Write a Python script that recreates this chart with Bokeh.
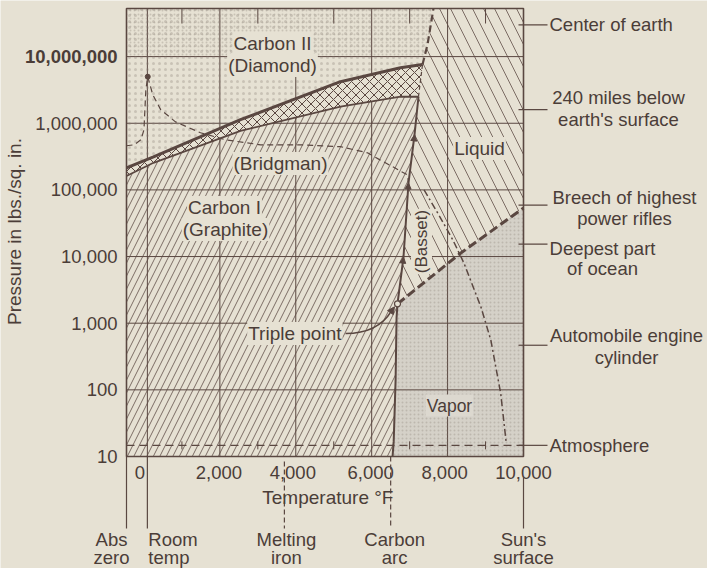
import math
from bokeh.plotting import figure
from bokeh.models import Range1d, Label, Arrow, NormalHead
from bokeh.core.properties import value
from bokeh.embed import file_html
from bokeh.resources import INLINE

# ---------------- data ----------------
temp_ticks = [0, 2000, 4000, 6000, 8000, 10000]
temp_tick_labels = ["0", "2,000", "4,000", "6,000", "8,000", "10,000"]
pressure_ticks = [10, 100, 1000, 10000, 100000, 1000000, 10000000]
pressure_tick_labels = ["10", "100", "1,000", "10,000", "100,000", "1,000,000", "10,000,000"]

T_MIN, T_MAX = -460, 10000
P_MIN, P_MAX = 10, 5.27e7

# graphite / diamond transition band (upper and lower edge)
band_upper_T = [-460, 251, 2544, 5178, 6759, 7339]
band_upper_P = [2.14e5, 3.13e5, 1.13e6, 4.2e6, 6.8e6, 7.6e6]
band_lower_T = [-460, 251, 2544, 5178, 6759, 7233]
band_lower_P = [1.62e5, 2.55e5, 7.7e5, 1.77e6, 2.5e6, 2.5e6]

# graphite melting line (Basset)
basset_T = [6680, 6838, 6970, 7128, 7233]
basset_P = [1950, 9800, 1.27e5, 6.7e5, 2.5e6]

# diamond melting line
dmelt_T = [7339, 7470, 7628]
dmelt_P = [7.6e6, 1.5e7, 5.27e7]

# graphite sublimation line
sublim_T = [6550, 6580, 6630, 6655, 6680]
sublim_P = [10, 17, 140, 1200, 1950]

# liquid / vapor line
boil_T = [6680, 8340, 10000]
boil_P = [1950, 11200, 53600]

triple_T = [6680]
triple_P = [1950]

# Bridgman curve
bridg_T = [-460, -260, -80, 0, 25, 50, 100, 230, 440, 830, 1490, 2150, 3070,
           4120, 5180, 5890, 6230, 6570, 6940, 6970]
bridg_P = [4.6e5, 4.75e5, 5.65e5, 8e5, 1.6e6, 3.2e6, 5e6, 2.7e6, 1.6e6, 1.05e6,
           7.2e5, 5.65e5, 4.75e5, 4.75e5, 4.45e5, 3.6e5, 2.8e5, 2.2e5, 1.68e5, 1.27e5]
bridg_peak_T = [100]
bridg_peak_P = [5e6]

# dash-dot curve through liquid and vapor
crit_T = [7380, 7770, 8140, 8430, 8880, 9140, 9400, 9540]
crit_P = [1e5, 4.2e4, 1.77e4, 8000, 1740, 555, 88, 17]

# reference pressures (right side)
ref_P_names = [["Center of earth"], ["240 miles below", "earth's surface"],
               ["Breech of highest", "power rifles"], ["Deepest part", "of ocean"],
               ["Automobile engine", "cylinder"], ["Atmosphere"]]
ref_P = [3.0e7, 1.6e6, 5.9e4, 1.54e4, 467, 14.7]

# reference temperatures (bottom)
ref_T_names = [["Abs", "zero"], ["Room", "temp"], ["Melting", "iron"],
               ["Carbon", "arc"], ["Sun's", "surface"]]
ref_T = [-460, 90, 3700, 6500, 10000]

grid_T = [90, 2000, 6000, 8000]
partial_grid_T = [4000]
partial_grid_top_P = [5e6]
top_ticks_T = [1000, 3000, 5000, 7000, 9000]
dense_stipple_floor_P = 1e7

# ---------------- layout helpers (page px <-> data) ----------------
W, H = 707, 568
FL, FR, FT, FB = 126, 523, 8, 456          # plot box edges in page pixels
LY0, LY1 = math.log10(P_MIN), math.log10(P_MAX)


def dx(px):
    return T_MIN + (px - FL) * (T_MAX - T_MIN) / (FR - FL)


def dy(py):
    return 10 ** (LY0 + (FB - py) * (LY1 - LY0) / (FB - FT))


def tx(T):
    return FL + (T - T_MIN) * (FR - FL) / (T_MAX - T_MIN)


def ty(P):
    return FB - (math.log10(P) - LY0) * (FB - FT) / (LY1 - LY0)


def interp_T(P, Ts, Ps):
    lp = math.log10(P)
    for i in range(len(Ts) - 1):
        a, b = math.log10(Ps[i]), math.log10(Ps[i + 1])
        if a <= lp <= b:
            return Ts[i] + (lp - a) / (b - a) * (Ts[i + 1] - Ts[i])
    return Ts[-1]


PAPER = "#e6e1d3"
INK = "#4b3d38"
LINE = "#5a4741"
FONT = "Liberation Sans"

p = figure(width=W, height=H, x_range=Range1d(dx(0), dx(W)),
           y_range=Range1d(dy(H), dy(0)), y_axis_type="log",
           x_axis_location=None, y_axis_location=None,
           output_backend="svg", toolbar_location=None,
           min_border=0, min_border_left=0, min_border_right=0,
           min_border_top=0, min_border_bottom=0)
p.background_fill_color = PAPER
p.border_fill_color = PAPER
p.outline_line_color = None
for g in p.grid:
    g.visible = False

# ---------------- vapor fill (under the grid) ----------------
vap_T = sublim_T + boil_T[1:] + [T_MAX]
vap_P = sublim_P + boil_P[1:] + [P_MIN]
p.patch(vap_T, vap_P, fill_color="#d5d1c8", line_color=None)

# ---------------- grid ----------------
n = len(grid_T)
p.segment(x0=grid_T, y0=[P_MIN] * n, x1=grid_T, y1=[P_MAX] * n, line_color=LINE, line_width=1)
p.segment(x0=partial_grid_T, y0=[P_MIN], x1=partial_grid_T, y1=partial_grid_top_P,
          line_color=LINE, line_width=1)
gp = pressure_ticks[1:]
p.segment(x0=[T_MIN] * len(gp), y0=gp, x1=[T_MAX] * len(gp), y1=gp, line_color=LINE, line_width=1)
p.segment(x0=top_ticks_T, y0=[dy(FT + 15)] * len(top_ticks_T), x1=top_ticks_T,
          y1=[P_MAX] * len(top_ticks_T), line_color=LINE, line_width=1)

# ---------------- regions ----------------
p.patch(vap_T, vap_P, fill_color=None, line_color=None, hatch_pattern=".",
        hatch_scale=4, hatch_color="#8f877f", hatch_alpha=0.35, hatch_weight=1)

dia_T = band_upper_T + dmelt_T[1:] + [T_MIN]
dia_P = band_upper_P + dmelt_P[1:] + [P_MAX]
p.patch(dia_T, dia_P, fill_color=None, line_color=None, hatch_pattern=".",
        hatch_scale=6, hatch_color="#857a72", hatch_alpha=0.3, hatch_weight=1)
# denser stipple in the upper part of the diamond field
t_floor = interp_T(dense_stipple_floor_P, dmelt_T, dmelt_P)
p.patch([T_MIN, t_floor, dmelt_T[-1], T_MIN],
        [dense_stipple_floor_P, dense_stipple_floor_P, P_MAX, P_MAX],
        fill_color=None, line_color=None, hatch_pattern=".",
        hatch_scale=4, hatch_color="#857a72", hatch_alpha=0.3, hatch_weight=1)

gr_T = [T_MIN] + band_lower_T + basset_T[::-1][1:] + sublim_T[::-1][1:]
gr_P = [P_MIN] + band_lower_P + basset_P[::-1][1:] + sublim_P[::-1][1:]
p.patch(gr_T, gr_P, fill_color=None, line_color=None, hatch_pattern="/",
        hatch_scale=13, hatch_color=LINE, hatch_alpha=0.85, hatch_weight=0.9)

liq_T = basset_T + dmelt_T + [T_MAX] + boil_T[::-1][:-1]
liq_P = basset_P + dmelt_P + [P_MAX] + boil_P[::-1][:-1]
p.patch(liq_T, liq_P, fill_color=None, line_color=None, hatch_pattern="\\",
        hatch_scale=22, hatch_color=LINE, hatch_alpha=0.85, hatch_weight=0.9)

band_T = band_upper_T + band_lower_T[::-1]
band_P = band_upper_P + band_lower_P[::-1]
p.patch(band_T, band_P, fill_color=PAPER, line_color=None, hatch_pattern="x",
        hatch_scale=9, hatch_color=LINE, hatch_weight=1)

# ---------------- boundary lines ----------------
p.line(band_upper_T, band_upper_P, line_color=LINE, line_width=3)
p.line(band_lower_T, band_lower_P, line_color=LINE, line_width=1.8)
p.line([band_lower_T[-1], band_upper_T[-1]], [band_lower_P[-1], band_upper_P[-1]],
       line_color=LINE, line_width=1.2, line_dash="4 3")
p.line(basset_T, basset_P, line_color=LINE, line_width=2)
p.line(sublim_T, sublim_P, line_color=LINE, line_width=2)
p.line(boil_T, boil_P, line_color=LINE, line_width=3, line_dash="9 4")
p.line(dmelt_T, dmelt_P, line_color=LINE, line_width=2.2, line_dash="7 4")
p.line(bridg_T, bridg_P, line_color=LINE, line_width=1.2, line_dash="6 4")
p.scatter(bridg_peak_T, bridg_peak_P, size=5, color=LINE)
p.line(crit_T, crit_P, line_color=LINE, line_width=1.5, line_dash="7 3 2 3")
atm = ref_P[-1]
p.line([T_MIN, T_MAX], [atm, atm], line_color=LINE, line_width=1.2, line_dash="8 5")
p.segment(x0=top_ticks_T, y0=[dy(ty(atm) + 4)] * 5, x1=top_ticks_T,
          y1=[dy(ty(atm) - 4)] * 5, line_color=LINE, line_width=1)
p.scatter(triple_T, triple_P, size=6, marker="circle", fill_color=PAPER,
          line_color=LINE, line_width=1.2)

# plot box
p.quad(left=[T_MIN], right=[T_MAX], bottom=[P_MIN], top=[P_MAX], fill_color=None,
       line_color=LINE, line_width=1.6)

# small arrows on the Basset line
for i in (1, 2, 3):
    p.add_layout(Arrow(end=NormalHead(size=6, fill_color=LINE, line_color=LINE),
                       x_start=basset_T[i - 1], y_start=basset_P[i - 1],
                       x_end=basset_T[i], y_end=basset_P[i], line_color=None))

# ---------------- tick labels ----------------
y_label_styles = ["normal"] * (len(pressure_ticks) - 1) + ["bold"]
p.text(x=[dx(FL - 9)] * len(pressure_ticks), y=pressure_ticks, text=pressure_tick_labels,
       text_font=value(FONT), text_font_size=value("18.5px"), text_color=INK,
       text_font_style=y_label_styles, text_align="right", text_baseline="middle")
x_label_nudge = [-4, -1, -3, -1, -3, 0]
p.text(x=temp_ticks, y=[dy(FB + 16)] * len(temp_ticks), text=temp_tick_labels,
       x_offset=x_label_nudge,
       text_font=value(FONT), text_font_size=value("18.5px"), text_color=INK,
       text_align="center", text_baseline="middle")


def lab(text, px, py, size="19px", align="center", bg=None, angle=0.0):
    kw = {}
    if bg is not None:
        kw = dict(background_fill_color=bg, background_fill_alpha=1.0, padding=1)
    p.add_layout(Label(x=dx(px), y=dy(py), text=text, text_font=FONT,
                       text_font_size=size, text_color=INK, text_align=align,
                       text_baseline="middle", angle=angle, **kw))


# axis titles
lab("Pressure in lbs./sq. in.", 14, 231, angle=math.pi / 2)
lab("Temperature  \u00b0F", 330, 497)

# region labels
lab("Carbon II", 272, 43, bg=PAPER)
lab("(Diamond)", 272, 65, bg=PAPER)
lab("(Bridgman)", 280, 163, bg=PAPER)
lab("Carbon I", 224, 207, bg=PAPER)
lab("(Graphite)", 225, 229, bg=PAPER)
lab("Liquid", 479, 148, bg=PAPER)
lab("(Basset)", 421, 241, size="17px", angle=math.pi / 2, bg=PAPER)
lab("Vapor", 449, 405, size="17.5px", bg="#dcd8cf")
lab("Triple point", 342, 333, align="right", bg=PAPER)

# triple point arrow
tp_x, tp_y = tx(triple_T[0]), ty(triple_P[0])
p.bezier(x0=[dx(345)], y0=[dy(333)], x1=[dx(tp_x - 6)], y1=[dy(tp_y + 7)],
         cx0=[dx(372)], cy0=[dy(333)], cx1=[dx(tp_x - 12)], cy1=[dy(tp_y + 17)],
         line_color=LINE, line_width=1.6)
p.add_layout(Arrow(end=NormalHead(size=7, fill_color=LINE, line_color=LINE),
                   x_start=dx(tp_x - 8), y_start=dy(tp_y + 10),
                   x_end=dx(tp_x - 3), y_end=dy(tp_y + 3), line_color=None))

# reference pressures on the right
two_line_layout = {"240 miles below": (-12, 10, 618),
                   "Breech of highest": (-8, 13, 624),
                   "Deepest part": (4, 24, 602),
                   "Automobile engine": (-10, 12, 626)}
for names, P in zip(ref_P_names, ref_P):
    y = ty(P)
    p.segment(x0=[dx(FR - 5)], y0=[P], x1=[dx(547)], y1=[P], line_color=LINE, line_width=1.2)
    if len(names) == 1:
        lab(names[0], 549, y, size="18.5px", align="left")
    else:
        o1, o2, cx = two_line_layout[names[0]]
        lab(names[0], cx, y + o1, size="18.5px")
        lab(names[1], cx, y + o2, size="18.5px")

# reference temperatures below
dashed = [False, False, True, True, False]
starts = [FB, FB, FB + 5, FB, FB + 20]
offs = [-15, 1, 2, 4, 0]
for names, T, dsh, s0, off in zip(ref_T_names, ref_T, dashed, starts, offs):
    x = tx(T)
    p.segment(x0=[T], y0=[dy(s0)], x1=[T], y1=[dy(528)], line_color=LINE, line_width=1.2,
              line_dash="5 3" if dsh else "solid")
    align = "left" if names[0] == "Room" else "center"
    lab(names[0], x + off, 539, size="18.5px", align=align)
    lab(names[1], x + off, 557, size="18.5px", align=align)

open("out.html", "w").write(file_html(p, INLINE))
